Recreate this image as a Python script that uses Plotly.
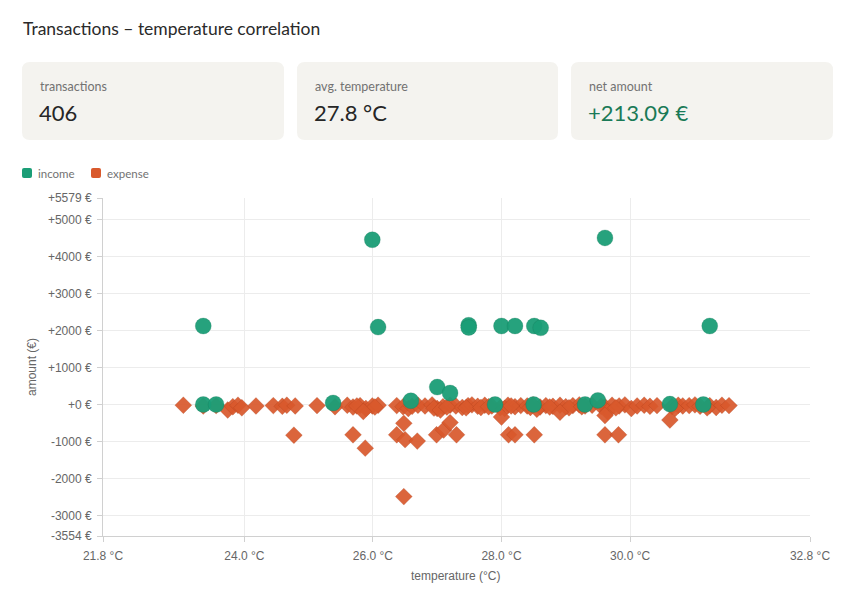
import plotly.graph_objects as go

# ---------------- data ----------------
income_temp = [23.36, 23.36, 23.56, 25.99, 26.08, 25.38, 26.59, 27.00, 27.20,
               27.49, 27.49, 28.00, 28.21, 28.51, 28.61, 29.61, 31.24,
               27.90, 28.50, 29.30, 29.50, 30.62, 31.14]
income_amount = [2120, 0, 0, 4450, 2090, 40, 100, 470, 310,
                 2140, 2080, 2120, 2120, 2120, 2070, 4500, 2120,
                 0, 0, 0, 110, 10, 0]

expense_temp = [23.05, 23.36, 23.56, 23.74, 23.82, 23.90, 23.96, 24.18, 24.45, 24.59,
                24.66, 24.79, 25.13, 25.41, 25.60, 25.69, 25.80, 25.89, 25.99, 26.08,
                26.37, 26.47, 26.55, 26.61, 26.70, 26.81, 26.92, 27.00, 27.09, 27.20,
                27.29, 27.39, 27.48, 27.54, 27.63, 27.74, 27.85, 27.98, 28.10, 28.21,
                28.30, 28.40, 28.49, 28.60, 28.69, 28.80, 28.91, 29.00, 29.11, 29.21,
                29.30, 29.41, 29.61, 29.72, 29.83, 29.92, 30.02, 30.11, 30.22, 30.31,
                30.42, 30.65, 30.75, 30.82, 30.92, 31.01, 31.09, 31.24, 31.34, 31.43,
                31.54,
                26.95, 27.05, 27.15, 27.45, 27.68, 27.80, 28.05, 28.15, 28.45, 28.55,
                28.75, 29.05, 29.25, 29.55, 29.65, 29.78, 30.70, 31.20, 26.03, 25.75,
                24.77, 25.69, 25.88, 26.37, 26.48, 26.50, 26.69, 26.48, 26.99, 27.10,
                27.20, 27.30, 28.00, 28.11, 28.21, 28.51, 28.91, 29.61, 29.61, 29.82,
                30.62, 25.85]
expense_amount = [-20, -40, -30, -150, -60, -20, -90, -40, -30, -50,
                  -20, -40, -30, -60, -20, -70, -30, -110, -40, -20,
                  -30, -60, -110, -50, -20, -40, -10, -110, -60, -20,
                  -40, -80, -30, -10, -50, -20, -40, -90, -20, -60,
                  -30, -40, -10, -70, -30, -50, -20, -60, -30, -10,
                  -40, -20, -60, -20, -40, -10, -110, -40, -20, -50,
                  -30, -60, -20, -40, -30, -10, -50, -30, -80, -20,
                  -30,
                  -100, -150, -70, -90, -80, -60, -110, -40, -80, -130,
                  -70, -90, -60, -50, -200, -90, -110, -90, -70, -40,
                  -830, -820, -1180, -820, -510, -950, -990, -2490, -820, -690,
                  -490, -820, -340, -820, -820, -820, -210, -300, -820, -820,
                  -420, -190]

x_tick_vals = [21.8, 24.0, 26.0, 28.0, 30.0, 32.8]
x_tick_text = ["21.8 °C", "24.0 °C", "26.0 °C", "28.0 °C", "30.0 °C", "32.8 °C"]
y_tick_vals = [-3554, -3000, -2000, -1000, 0, 1000, 2000, 3000, 4000, 5000, 5579]
y_tick_text = ["-3554 €", "-3000 €", "-2000 €", "-1000 €", "+0 €", "+1000 €",
               "+2000 €", "+3000 €", "+4000 €", "+5000 €", "+5579 €"]

card_labels = ["transactions", "avg. temperature", "net amount"]
card_values = ["406", "27.8 °C", "+213.09 €"]

title_text = "Transactions – temperature correlation"
series_names = ["income", "expense"]

# ---------------- layout helpers ----------------
W, H = 852, 602
L, R, T, B = 103, 42, 198, 66
PW, PH = W - L - R, H - T - B

INCOME_COLOR = "#1b9e77"
EXPENSE_COLOR = "#d9592c"
CARD_FILL = "#f4f3ef"
TEXT_FONT = "Lato"
AXIS_FONT = "Liberation Sans"


def fx(px):
    return (px - L) / PW


def fy(py):
    return (H - B - py) / PH


def rounded_rect(x0, y0, x1, y1, r):
    pts = [
        ("M", (x0 + r, y0)), ("L", (x1 - r, y0)), ("Q", (x1, y0), (x1, y0 + r)),
        ("L", (x1, y1 - r)), ("Q", (x1, y1), (x1 - r, y1)),
        ("L", (x0 + r, y1)), ("Q", (x0, y1), (x0, y1 - r)),
        ("L", (x0, y0 + r)), ("Q", (x0, y0), (x0 + r, y0)),
    ]
    s = ""
    for item in pts:
        cmd = item[0]
        s += cmd + " " + " ".join(f"{fx(p[0]):.5f},{fy(p[1]):.5f}" for p in item[1:]) + " "
    return s + "Z"


fig = go.Figure()

fig.add_trace(go.Scatter(
    x=expense_temp, y=expense_amount, mode="markers", name=series_names[1],
    marker=dict(symbol="diamond", size=13, color=EXPENSE_COLOR, opacity=0.92,
                line=dict(width=0.6, color="rgba(150,50,20,0.35)")),
    showlegend=False,
))
fig.add_trace(go.Scatter(
    x=income_temp, y=income_amount, mode="markers", name=series_names[0],
    marker=dict(symbol="circle", size=16, color=INCOME_COLOR, opacity=0.95,
                line=dict(width=0.6, color="rgba(20,110,80,0.4)")),
    showlegend=False,
))

shapes = []
annotations = []

# cards
card_x = [(22, 284), (297, 558), (571, 833)]
for i, (x0, x1) in enumerate(card_x):
    shapes.append(dict(type="path", xref="paper", yref="paper",
                       path=rounded_rect(x0, 62, x1, 140, 8),
                       fillcolor=CARD_FILL, line=dict(width=0), layer="below"))
    annotations.append(dict(x=fx(x0 + 16), y=fy(86), xref="paper", yref="paper",
                            text=card_labels[i], showarrow=False, xanchor="left",
                            yanchor="middle",
                            font=dict(family=TEXT_FONT, size=12.5, color="#727272")))
    annotations.append(dict(x=fx(x0 + 15), y=fy(112), xref="paper", yref="paper",
                            text=card_values[i], showarrow=False, xanchor="left",
                            yanchor="middle",
                            font=dict(family=TEXT_FONT, size=22,
                                      color="#1a7a57" if i == 2 else "#262626")))

# title
annotations.append(dict(x=fx(21), y=fy(28), xref="paper", yref="paper",
                        text=title_text, showarrow=False, xanchor="left",
                        yanchor="middle",
                        font=dict(family=TEXT_FONT, size=17.5, color="#2a2a2a")))

# legend
legend_items = [(22, series_names[0], INCOME_COLOR), (91, series_names[1], EXPENSE_COLOR)]
for x0, name, col in legend_items:
    shapes.append(dict(type="path", xref="paper", yref="paper",
                       path=rounded_rect(x0, 168, x0 + 10, 178, 2),
                       fillcolor=col, line=dict(width=0)))
    annotations.append(dict(x=fx(x0 + 14), y=fy(173), xref="paper", yref="paper",
                            text=name, showarrow=False, xanchor="left",
                            yanchor="middle",
                            font=dict(family=TEXT_FONT, size=11.5, color="#727272")))

# axis titles
annotations.append(dict(x=fx(32), y=fy(367), xref="paper", yref="paper",
                        text="amount (€)", showarrow=False, textangle=-90,
                        xanchor="center", yanchor="middle",
                        font=dict(family=AXIS_FONT, size=12, color="#666666")))
annotations.append(dict(x=fx(456), y=fy(576), xref="paper", yref="paper",
                        text="temperature (°C)", showarrow=False,
                        xanchor="center", yanchor="middle",
                        font=dict(family=AXIS_FONT, size=12, color="#666666")))

fig.update_layout(
    template="none",
    width=W, height=H, autosize=False,
    margin=dict(l=L, r=R, t=T, b=B, pad=0),
    paper_bgcolor="white", plot_bgcolor="white",
    showlegend=False,
    shapes=shapes, annotations=annotations,
    xaxis=dict(range=[21.8, 32.8], tickmode="array", tickvals=x_tick_vals,
               ticktext=x_tick_text, showgrid=True, gridcolor="#ececec",
               gridwidth=1, zeroline=False, showline=True, linecolor="#d0d0d0",
               linewidth=1, ticks="outside", ticklen=5, tickcolor="#d0d0d0",
               ticklabelstandoff=4,
               tickfont=dict(family=AXIS_FONT, size=12, color="#666666"),
               automargin=False, fixedrange=True),
    yaxis=dict(range=[-3554, 5579], tickmode="array", tickvals=y_tick_vals,
               ticktext=y_tick_text, showgrid=True, gridcolor="#ececec",
               gridwidth=1, zeroline=False, showline=True, linecolor="#d0d0d0",
               linewidth=1, ticks="outside", ticklen=5, tickcolor="#d0d0d0",
               ticklabelstandoff=3,
               tickfont=dict(family=AXIS_FONT, size=12, color="#666666"),
               automargin=False, fixedrange=True),
)

fig.write_html("out.html", config={"displayModeBar": False})
